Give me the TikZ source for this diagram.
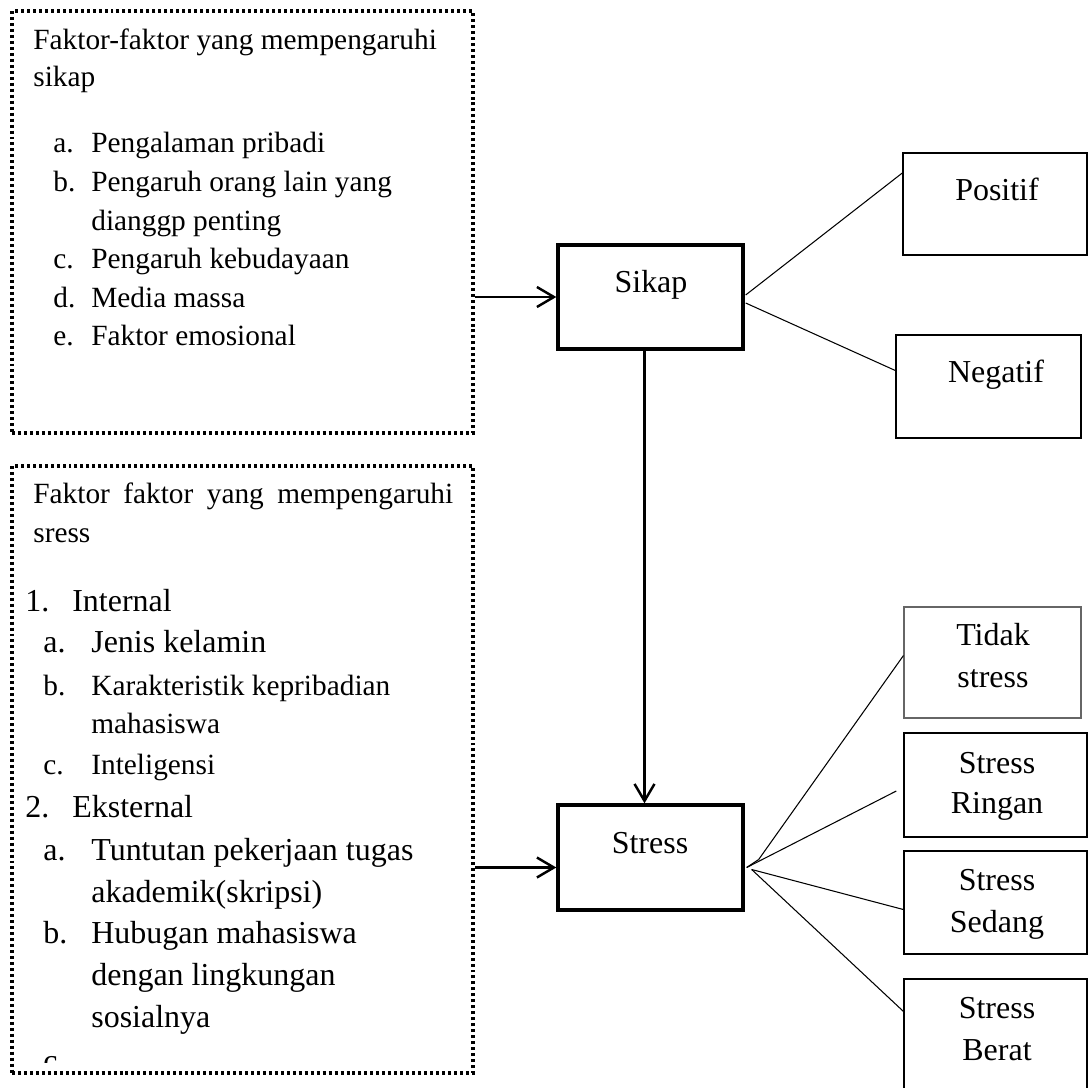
\documentclass[tikz,border=0pt]{standalone}
\usepackage{fontspec}
\setmainfont{Liberation Serif}
\usetikzlibrary{arrows.meta,fit,calc}
\newcommand{\smalltxt}{\fontsize{16.7}{21.6}\selectfont}
\newcommand{\bigtxt}{\fontsize{18.2}{23.5}\selectfont}

\begin{document}
\begin{tikzpicture}[x=0.02cm,y=-0.02cm,
    dotbox/.style={draw, line width=2.2pt, dash pattern=on 1.7pt off 1.7pt, inner sep=0pt},
    heavybox/.style={draw, line width=1.9pt, inner sep=0pt},
    plainbox/.style={draw, line width=0.8pt, inner sep=0pt},
    greybox/.style={draw=black!60, line width=0.6pt, inner sep=0pt},
    st/.style={inner sep=0pt, anchor=base west, font=\smalltxt},
    bt/.style={inner sep=0pt, anchor=base west, font=\bigtxt},
    lbl/.style={inner sep=0pt, anchor=base, font=\bigtxt},
    arr/.style={line width=1.4pt, -{Straight Barb[length=0.34cm,width=0.4cm,line width=1.4pt]}},
    link/.style={line width=0.6pt}]
  \clip (0,0) rectangle (1089,1088);

  %%%%% factor boxes %%%%%
  \node[dotbox, fit={(12,11) (473,433)}] (sikapf) {};
  \node[dotbox, fit={(12,466) (473,1073)}] (stressf) {};

  % sikap factors
  \node[st] (h1a) at (33,50) {Faktor-faktor yang mempengaruhi};
  \node[st] (h1b) at (33,87) {sikap};
  \node[st] (s1a) at (53,153) {\makebox[0.76cm][l]{a.}Pengalaman pribadi};
  \node[st] (s1b) at (53,192) {\makebox[0.76cm][l]{b.}Pengaruh orang lain yang};
  \node[st] (s1bb) at (91,230) {dianggp penting};
  \node[st] (s1c) at (53,268) {\makebox[0.76cm][l]{c.}Pengaruh kebudayaan};
  \node[st] (s1d) at (53,307) {\makebox[0.76cm][l]{d.}Media massa};
  \node[st] (s1e) at (53,345) {\makebox[0.76cm][l]{e.}Faktor emosional};

  % stress factors
  \node[st] (h2a) at (33,503) {\makebox[8.4cm][s]{Faktor faktor yang mempengaruhi}};
  \node[st] (h2b) at (33,542) {sress};
  \node[bt] (n1) at (25,611) {\makebox[0.94cm][l]{1.}Internal};
  \node[bt] (s2a) at (43,652) {\makebox[0.96cm][l]{a.}Jenis kelamin};
  \node[st] (s2b) at (43,695) {\makebox[0.96cm][l]{b.}Karakteristik kepribadian};
  \node[st] (s2bb) at (91,733) {mahasiswa};
  \node[st] (s2c) at (43,774) {\makebox[0.96cm][l]{c.}Inteligensi};
  \node[bt] (n2) at (25,817) {\makebox[0.94cm][l]{2.}Eksternal};
  \node[bt] (s3a) at (43,860) {\makebox[0.96cm][l]{a.}Tuntutan pekerjaan tugas};
  \node[bt] (s3aa) at (91,902) {akademik(skripsi)};
  \node[bt] (s3b) at (43,943) {\makebox[0.96cm][l]{b.}Hubugan mahasiswa};
  \node[bt] (s3bb) at (91,985) {dengan lingkungan};
  \node[bt] (s3bc) at (91,1027) {sosialnya};
  \begin{scope}
    \clip (14,1000) rectangle (470,1062);
    \node[bt] (s3c) at (43,1071) {c.};
  \end{scope}

  %%%%% main boxes %%%%%
  \node[heavybox, fit={(558,245) (743,349)}] (sikap) {};
  \node[lbl] (sikapl) at (651,292) {Sikap};
  \node[heavybox, fit={(558,805) (743,910)}] (stress) {};
  \node[lbl] (stressl) at (650,853) {Stress};

  %%%%% outcome boxes %%%%%
  \node[plainbox, fit={(903,153) (1087,255)}] (pos) {};
  \node[lbl] (posl) at (997,200) {Positif};
  \node[plainbox, fit={(896,335) (1081,438)}] (neg) {};
  \node[lbl] (negl) at (996,382) {Negatif};

  \node[greybox, fit={(904,607) (1081,718)}] (tidak) {};
  \node[lbl] (tidakl) at (993,645) {Tidak};
  \node[lbl] (tidakm) at (993,687) {stress};
  \node[plainbox, fit={(904,733) (1087,837)}] (ringan) {};
  \node[lbl] (ringanl) at (997,773) {Stress};
  \node[lbl] (ringanm) at (997,813) {Ringan};
  \node[plainbox, fit={(904,851) (1087,954)}] (sedang) {};
  \node[lbl] (sedangl) at (997,890) {Stress};
  \node[lbl] (sedangm) at (997,932) {Sedang};
  \node[plainbox, fit={(904,979) (1087,1110)}] (berat) {};
  \node[lbl] (beratl) at (997,1018) {Stress};
  \node[lbl] (beratm) at (997,1060) {Berat};

  %%%%% arrows %%%%%
  \draw[arr] (sikapf.east |- sikap.west) -- (sikap.west);
  \draw[arr] ($(stressf.east |- stress.west)+(0,10)$) -- ($(stress.west)+(0,10)$);
  \draw[arr] ($(sikap.south)+(-6,0)$) -- ($(stress.north)+(-6,0)$);

  %%%%% links %%%%%
  \draw[link] ($(sikap.east)+(1,-2)$) -- ($(pos.west)+(0,-31)$);
  \draw[link] ($(sikap.east)+(1,6)$) -- ($(neg.west)+(0,-16)$);

  \coordinate (jup) at ($(stress.east)+(2,10)$);
  \coordinate (jlo) at ($(stress.east)+(7,12)$);
  \draw[link] ($(jup)+(12,-8)$) -- ($(tidak.west)+(0,-7)$);
  \draw[link] (jup) -- ($(jup)+(12,-8)$);
  \draw[link] (jup) -- ($(ringan.west)+(-7,6)$);
  \draw[link] (jlo) -- ($(sedang.west)+(0,7)$);
  \draw[link] (jlo) -- ($(berat.north west)+(0,33)$);
\end{tikzpicture}
\end{document}
